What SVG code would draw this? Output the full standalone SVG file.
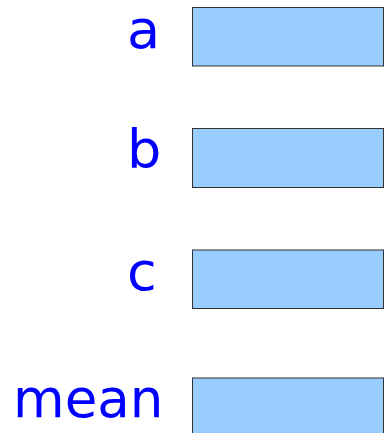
<svg xmlns="http://www.w3.org/2000/svg" width="387" height="433" viewBox="0 0 387 433">
  <style>
    .lbl { font-family: "DejaVu Sans", sans-serif; font-size: 54px; fill: #0000ff; }
    .box { fill: #99ccff; stroke: #333333; stroke-width: 1; }
  </style>
  <rect width="387" height="433" fill="#ffffff"/>
  <g id="var-a">
    <text class="lbl" x="127" y="47.5">a</text>
    <rect class="box" x="192.5" y="7.5" width="191" height="58.5"/>
  </g>
  <g id="var-b">
    <text class="lbl" x="127" y="167.5">b</text>
    <rect class="box" x="192.5" y="128.5" width="191" height="59"/>
  </g>
  <g id="var-c">
    <text class="lbl" x="127" y="290">c</text>
    <rect class="box" x="192.5" y="250" width="191" height="58.5"/>
  </g>
  <g id="var-mean">
    <text class="lbl" x="13" y="417" style="font-size:53px">mean</text>
    <rect class="box" x="192.5" y="378" width="191" height="58.5"/>
  </g>
  <g id="connectors"></g>
</svg>
